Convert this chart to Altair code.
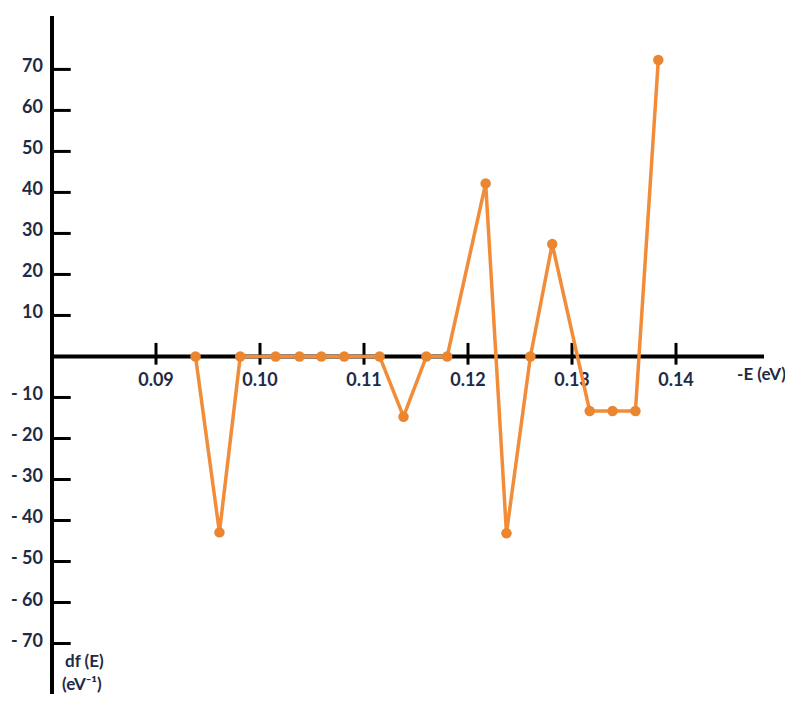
import altair as alt
import pandas as pd

# data
energy = [0.0938, 0.0961, 0.0981, 0.1015, 0.1038, 0.1059, 0.1081, 0.1115, 0.1138,
          0.1160, 0.1180, 0.1217, 0.1237, 0.1260, 0.1281, 0.1317, 0.1339, 0.1361, 0.1383]
dfE = [0, -42.9, 0, 0, 0, 0, 0, 0, -14.7, 0, 0, 42.2, -43.1, 0, 27.4,
       -13.3, -13.3, -13.3, 72.3]

x_ticks = [0.09, 0.10, 0.11, 0.12, 0.13, 0.14]
x_tick_labels = ["0.09", "0.10", "0.11", "0.12", "0.13", "0.14"]
y_ticks = [70, 60, 50, 40, 30, 20, 10, 0, -10, -20, -30, -40, -50, -60, -70]
y_tick_labels = ["70", "60", "50", "40", "30", "20", "10", "",
                 "- 10", "- 20", "- 30", "- 40", "- 50", "- 60", "- 70"]

x_min, x_max = 0.08, 0.148462
y_min, y_max = -80.85, 84.0
x_axis_end = x_max
y_axis_top = 83.0
y_axis_bottom = -84.5
ytick_len_end = 0.0818
xtick_lo, xtick_hi = -2.0, 3.3
xlabel_y = -6.0

font = "Lato"
txt_color = "#1f2a44"
orange = "#F28C38"

xs = alt.Scale(domain=[x_min, x_max], nice=False, zero=False)
ys = alt.Scale(domain=[y_min, y_max], nice=False, zero=False)

series = pd.DataFrame({"E": energy, "df": dfE})

# axis lines
yaxis_df = pd.DataFrame({"x": [x_min], "y": [y_axis_bottom], "y2": [y_axis_top]})
yaxis = alt.Chart(yaxis_df).mark_rule(color="black", strokeWidth=4).encode(
    x=alt.X("x:Q", scale=xs, axis=None),
    y=alt.Y("y:Q", scale=ys, axis=None),
    y2="y2:Q",
)
xaxis_df = pd.DataFrame({"x": [x_min], "x2": [x_axis_end], "y": [0]})
xaxis = alt.Chart(xaxis_df).mark_rule(color="black", strokeWidth=4).encode(
    x=alt.X("x:Q", scale=xs, axis=None),
    x2="x2:Q",
    y=alt.Y("y:Q", scale=ys, axis=None),
)

# ticks
ytick_df = pd.DataFrame({"y": y_ticks, "x": [x_min] * len(y_ticks),
                         "x2": [ytick_len_end] * len(y_ticks), "label": y_tick_labels})
yticks = alt.Chart(ytick_df).mark_rule(color="black", strokeWidth=3).encode(
    x=alt.X("x:Q", scale=xs, axis=None),
    x2="x2:Q",
    y=alt.Y("y:Q", scale=ys, axis=None),
)
ylabels = alt.Chart(ytick_df).mark_text(
    align="right", baseline="middle", dx=-9, dy=-2, font=font, fontSize=18,
    fontWeight="bold", color=txt_color
).encode(
    x=alt.X("x:Q", scale=xs, axis=None),
    y=alt.Y("y:Q", scale=ys, axis=None),
    text="label:N",
)

xtick_df = pd.DataFrame({"x": x_ticks, "y": [xtick_lo] * len(x_ticks),
                         "y2": [xtick_hi] * len(x_ticks), "ly": [xlabel_y] * len(x_ticks),
                         "label": x_tick_labels})
xticks = alt.Chart(xtick_df).mark_rule(color="black", strokeWidth=3).encode(
    x=alt.X("x:Q", scale=xs, axis=None),
    y=alt.Y("y:Q", scale=ys, axis=None),
    y2="y2:Q",
)
xlabels = alt.Chart(xtick_df).mark_text(
    align="center", baseline="middle", font=font, fontSize=18,
    fontWeight="bold", color=txt_color
).encode(
    x=alt.X("x:Q", scale=xs, axis=None),
    y=alt.Y("ly:Q", scale=ys, axis=None),
    text="label:N",
)

# axis titles
titles_df = pd.DataFrame({
    "x": [0.14587, 0.08125, 0.08096],
    "y": [-4.5, -74.5, -80.1],
    "t": ["-E (eV)", "df (E)", "(eV\u207b\u00b9)"],
})
titles = alt.Chart(titles_df).mark_text(
    align="left", baseline="middle", font=font, fontSize=17,
    fontWeight="bold", color=txt_color
).encode(
    x=alt.X("x:Q", scale=xs, axis=None),
    y=alt.Y("y:Q", scale=ys, axis=None),
    text="t:N",
)

line = alt.Chart(series).mark_line(color=orange, strokeWidth=3.5).encode(
    x=alt.X("E:Q", scale=xs, axis=None),
    y=alt.Y("df:Q", scale=ys, axis=None),
)
points = alt.Chart(series).mark_point(
    filled=True, color="#EB8630", size=110, opacity=1
).encode(
    x=alt.X("E:Q", scale=xs, axis=None),
    y=alt.Y("df:Q", scale=ys, axis=None),
)

chart = alt.layer(
    yaxis, xaxis, yticks, xticks, ylabels, xlabels, titles, line, points
).properties(
    width=712, height=676,
    autosize=alt.AutoSizeParams(type="none"),
    padding={"left": 44, "top": 4, "right": 21, "bottom": 6},
).configure(background="white").configure_view(stroke=None)

chart.save("out.html", embed_options={"renderer": "svg", "actions": False})
